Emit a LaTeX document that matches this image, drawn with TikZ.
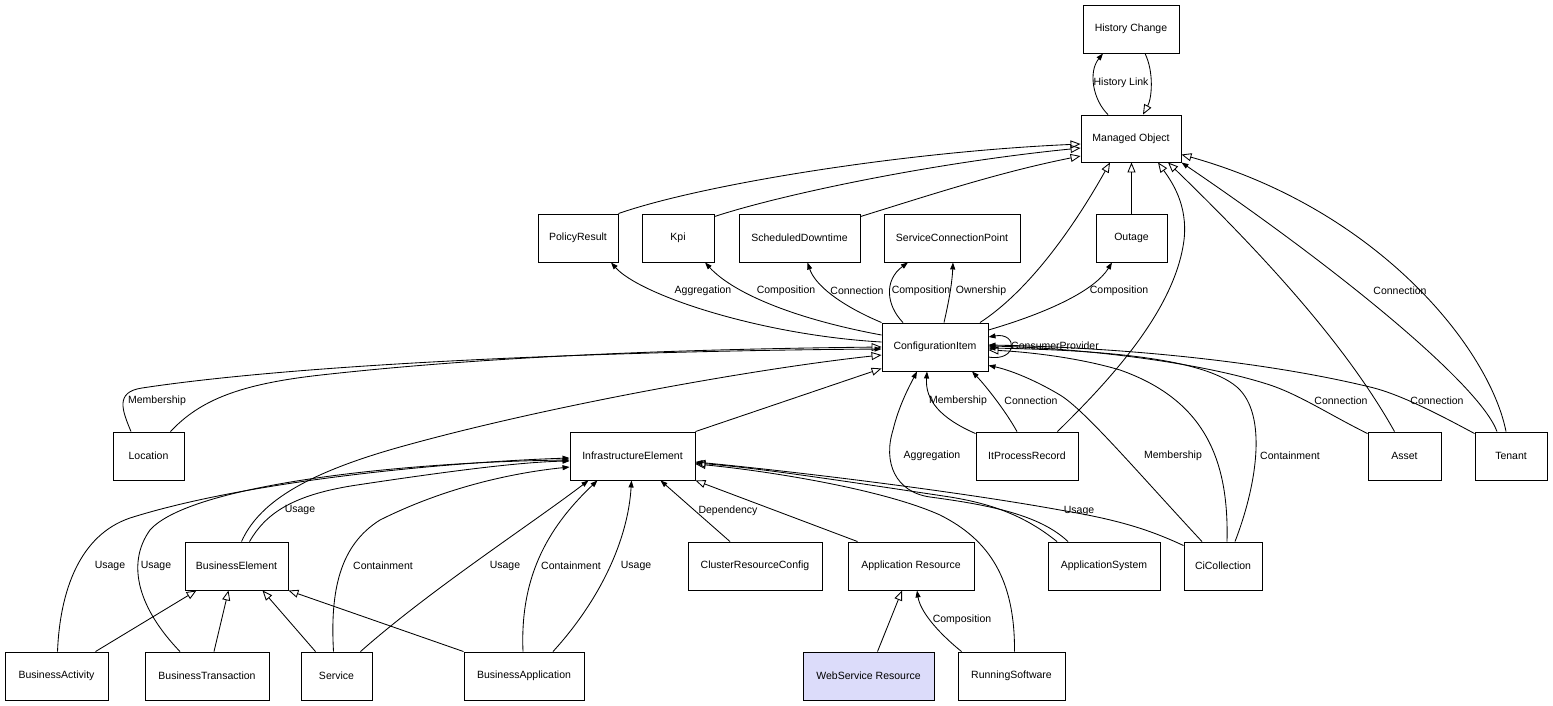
\documentclass[tikz,border=0pt]{standalone}
\usepackage{fontspec}
\setmainfont{Liberation Sans}
\usetikzlibrary{arrows.meta,calc}
\newcommand{\dgfont}{\fontsize{10.5}{12}\selectfont}
\definecolor{wsfill}{RGB}{220,220,250}
\begin{document}
\begin{tikzpicture}[x=1pt,y=-1pt,
  box/.style={draw, line width=0.9pt, minimum height=48pt, inner sep=0pt, font=\dgfont},
  inh/.style={draw, line width=0.85pt, -{Triangle[open,length=10pt,width=8pt]}},
  asc/.style={draw, line width=0.85pt, -{Triangle[length=7pt,width=5pt]}},
  lbl/.style={font=\dgfont, inner sep=0pt}]
\path[use as bounding box] (0,0) rectangle (1553,705);
% nodes
\node[box, minimum width=96pt]  (hc)  at (1131,29)    {History Change};
\node[box, minimum width=100pt, minimum height=47pt] (mo) at (1131,138.5) {Managed Object};
\node[box, minimum width=80pt]  (pr)  at (578,238)    {PolicyResult};
\node[box, minimum width=72pt]  (kpi) at (678,238)    {Kpi};
\node[box, minimum width=121pt] (sd)  at (799.5,238)  {ScheduledDowntime};
\node[box, minimum width=136pt] (scp) at (952,238)    {ServiceConnectionPoint};
\node[box, minimum width=71pt]  (out) at (1131.5,238) {Outage};
\node[box, minimum width=106pt] (ci)  at (935,347)    {ConfigurationItem};
\node[box, minimum width=71pt]  (loc) at (148.5,456)  {Location};
\node[box, minimum width=125pt] (ie)  at (632.5,456)  {InfrastructureElement};
\node[box, minimum width=102pt] (ipr) at (1027,456)   {ItProcessRecord};
\node[box, minimum width=73pt]  (asset) at (1404.5,456) {Asset};
\node[box, minimum width=72pt]  (tenant) at (1511,456) {Tenant};
\node[box, minimum width=103pt] (be)  at (236.5,566)  {BusinessElement};
\node[box, minimum width=134pt] (crc) at (755,566)    {ClusterResourceConfig};
\node[box, minimum width=126pt] (ar)  at (911,566)    {Application Resource};
\node[box, minimum width=112pt] (as)  at (1104,566)   {ApplicationSystem};
\node[box, minimum width=78pt]  (cic) at (1223,566)   {CiCollection};
\node[box, minimum width=103pt] (bact) at (56.5,676)  {BusinessActivity};
\node[box, minimum width=124pt] (bt)  at (207,676)    {BusinessTransaction};
\node[box, minimum width=71pt]  (svc) at (336.5,676)  {Service};
\node[box, minimum width=120pt] (bapp) at (524,676)   {BusinessApplication};
\node[box, minimum width=131pt, fill=wsfill] (wsr) at (868.5,676) {WebService Resource};
\node[box, minimum width=107pt] (rs)  at (1011.5,676) {RunningSoftware};

% History link
\draw[asc] ($(mo.north)+(-23,0)$) .. controls (1093,100) and (1088,72) .. ($(hc.south)+(-28,0)$);
\draw[inh] ($(hc.south)+(14,0)$) .. controls (1154,72) and (1152,98) .. ($(mo.north)+(12,0)$);
% to Managed Object
\draw[inh] (pr.north east) .. controls (700,185) and (900,152) .. ($(mo.west)+(0,5.5)$);
\draw[inh] ($(kpi.north east)+(0,3)$) .. controls (780,195) and (930,163) .. ($(mo.west)+(0,9.5)$);
\draw[inh] ($(sd.north east)+(0,3)$) .. controls (930,195) and (1000,172) .. ($(mo.west)+(0,17.5)$);
\draw[inh] (out.north) -- (out.north |- mo.south);
\draw[inh] ($(ci.north)+(45,0)$) .. controls (1030,290) and (1075,225) .. ($(mo.south)+(-21,0)$);
\draw[inh] ($(ipr.north east)+(-21,0)$) .. controls (1110,380) and (1175,310) .. (1184,240) .. controls (1188,205) and (1172,182) .. ($(mo.south)+(27,0)$);
\draw[inh] ($(asset.north)+(-10,0)$) .. controls (1360,370) and (1300,290) .. ($(mo.south)+(37,0)$);
\draw[asc] ($(tenant.north)+(-14,0)$) .. controls (1480,385) and (1340,270) .. (mo.south east);
\draw[inh] ($(tenant.north)+(-5,0)$) .. controls (1490,350) and (1380,210) .. ($(mo.east)+(0,16)$);
% CI to row 2
\draw[asc] ($(ci.west)+(0,-5)$) .. controls (760,335) and (640,295) .. ($(pr.south)+(33,0)$);
\draw[asc] ($(ci.west)+(0,-12)$) .. controls (800,320) and (735,295) .. ($(kpi.south)+(27,0)$);
\draw[asc] (ci.north west) .. controls (840,305) and (815,285) .. ($(sd.south)+(8,0)$);
\draw[asc] ($(ci.north)+(-32,0)$) .. controls (886,305) and (884,280) .. ($(scp.south)+(-44,0)$);
\draw[asc] ($(ci.north)+(9,0)$) .. controls (948,305) and (952,285) .. ($(scp.south)+(1,0)$);
\draw[asc] ($(ci.east)+(0,-17)$) .. controls (1050,312) and (1095,290) .. ($(out.south)+(-19.5,0)$);
\draw[asc] ($(ci.east)+(0,10)$) .. controls (1018,362) and (1018,332) .. ($(ci.east)+(0,-10)$);
% into CI from left
\draw[asc] ($(loc.north)+(-17.5,0)$) .. controls (122,410) and (115,392) .. (142,388) .. controls (300,364) and (600,351) .. ($(ci.west)+(0,2)$);
\draw[inh] ($(loc.north)+(22,0)$) .. controls (200,400) and (240,384) .. (321,375) .. controls (500,355) and (700,349) .. (ci.west);
\draw[inh] ($(be.north)+(5,0)$) .. controls (258,505) and (300,475) .. (400,447) .. controls (550,405) and (760,368) .. ($(ci.west)+(0,8)$);
\draw[inh] (ie.north east) -- ($(ci.south west)+(0,-3)$);
% into CI from below
\draw[asc] ($(ipr.north west)+(0,2)$) .. controls (940,418) and (925,400) .. ($(ci.south)+(-8,0)$);
\draw[asc] ($(ipr.north)+(-10,0)$) .. controls (1005,410) and (985,385) .. ($(ci.south)+(37,0)$);
\draw[asc] ($(as.north)+(-36,0)$) .. controls (1040,515) and (990,505) .. (930,497) .. controls (895,492) and (883,462) .. (893,430) .. controls (899,405) and (910,385) .. ($(ci.south)+(-18,0)$);
\draw[asc] ($(cic.north)+(-21,0)$) .. controls (1140,475) and (1085,410) .. (1060,395) .. controls (1035,380) and (1010,370) .. ($(ci.south east)+(0,-6)$);
\draw[inh] ($(cic.north)+(4,0)$) .. controls (1229,460) and (1205,400) .. (1120,370) .. controls (1080,358) and (1030,352) .. ($(ci.east)+(0,3)$);
\draw[asc] ($(cic.north)+(12,0)$) .. controls (1255,490) and (1268,420) .. (1240,390) .. controls (1210,358) and (1100,350) .. ($(ci.east)+(0,1)$);
\draw[asc] ($(asset.north west)+(0,2)$) .. controls (1330,415) and (1300,395) .. (1270,385) .. controls (1200,362) and (1080,348) .. ($(ci.east)+(0,-1)$);
\draw[asc] ($(tenant.north west)+(0,2)$) .. controls (1440,415) and (1400,394) .. (1370,387) .. controls (1250,358) and (1100,347) .. ($(ci.east)+(0,-2)$);
% into InfrastructureElement
\draw[asc] ($(bact.north)+(1,0)$) .. controls (60,590) and (80,535) .. (130,518) .. controls (250,480) and (450,462) .. ($(ie.west)+(0,2)$);
\draw[asc] ($(bt.north)+(-27,0)$) .. controls (140,610) and (125,565) .. (150,530) .. controls (190,485) and (400,462) .. ($(ie.west)+(0,4)$);
\draw[asc] ($(be.north)+(13,0)$) .. controls (265,515) and (290,495) .. (357,485) .. controls (450,471) and (520,462) .. ($(ie.west)+(0,5)$);
\draw[asc] ($(svc.north)+(-3,0)$) .. controls (330,590) and (340,545) .. (380,520) .. controls (450,485) and (520,472) .. ($(ie.west)+(0,11)$);
\draw[asc] ($(svc.north)+(24,0)$) .. controls (430,590) and (530,525) .. ($(ie.south)+(-44,0)$);
\draw[asc] ($(bapp.north)+(-1,0)$) .. controls (520,580) and (545,530) .. ($(ie.south)+(-35,0)$);
\draw[asc] ($(bapp.north)+(29,0)$) .. controls (600,600) and (628,540) .. ($(ie.south)+(-1,0)$);
\draw[asc] ($(crc.north)+(-25,0)$) -- ($(ie.south)+(28,0)$);
\draw[inh] ($(ar.north west)+(10,0)$) -- (ie.south east);
\draw[inh] ($(rs.north)+(3,0)$) .. controls (1015,580) and (990,540) .. (940,515) .. controls (880,488) and (760,470) .. ($(ie.east)+(0,8)$);
\draw[inh] ($(as.north)+(-47,0)$) .. controls (1030,520) and (1000,505) .. (950,497) .. controls (850,482) and (760,468) .. ($(ie.east)+(0,7)$);
\draw[asc] ($(cic.north west)+(0,4)$) .. controls (1150,530) and (1120,520) .. (1060,510) .. controls (950,490) and (780,470) .. ($(ie.east)+(0,6)$);
% Application Resource
\draw[inh] ($(wsr.north)+(9,0)$) -- ($(ar.south)+(-9,0)$);
\draw[asc] ($(rs.north west)+(4,0)$) .. controls (935,630) and (920,610) .. ($(ar.south)+(6,0)$);
% BusinessElement
\draw[inh] ($(bact.north)+(39,0)$) -- ($(be.south)+(-40,0)$);
\draw[inh] ($(bt.north)+(7,0)$) -- ($(be.south)+(-8,0)$);
\draw[inh] ($(svc.north)+(-21,0)$) -- ($(be.south)+(26,0)$);
\draw[inh] (bapp.north west) -- (be.south east);

% labels
\node[lbl] (t1) at (1121,83) {History Link};
\node[lbl] (t2) at (703,291) {Aggregation};
\node[lbl] (t3) at (786,291) {Composition};
\node[lbl] (t4) at (857,291) {Connection};
\node[lbl] (t5) at (921,291) {Composition};
\node[lbl] (t6) at (981,291) {Ownership};
\node[lbl] (t7) at (1119,291) {Composition};
\node[lbl] (t8) at (1400,291) {Connection};
\node[lbl] (t9) at (1055,346) {ConsumerProvider};
\node[lbl] (t10) at (157,401) {Membership};
\node[lbl] (t11) at (958,401) {Membership};
\node[lbl] (t12) at (1031,401) {Connection};
\node[lbl] (t13) at (1341,401) {Connection};
\node[lbl] (t14) at (1437,401) {Connection};
\node[lbl] (t15) at (932,456) {Aggregation};
\node[lbl] (t16) at (1173,456) {Membership};
\node[lbl] (t17) at (1290,456) {Containment};
\node[lbl] (t18) at (300,510) {Usage};
\node[lbl] (t19) at (728,511) {Dependency};
\node[lbl] (t20) at (1079,511) {Usage};
\node[lbl] (t21) at (110,566) {Usage};
\node[lbl] (t22) at (156,566) {Usage};
\node[lbl] (t23) at (383,566) {Containment};
\node[lbl] (t24) at (505,566) {Usage};
\node[lbl] (t25) at (571,566) {Containment};
\node[lbl] (t26) at (636,566) {Usage};
\node[lbl] (t27) at (962,620) {Composition};
\end{tikzpicture}
\end{document}
